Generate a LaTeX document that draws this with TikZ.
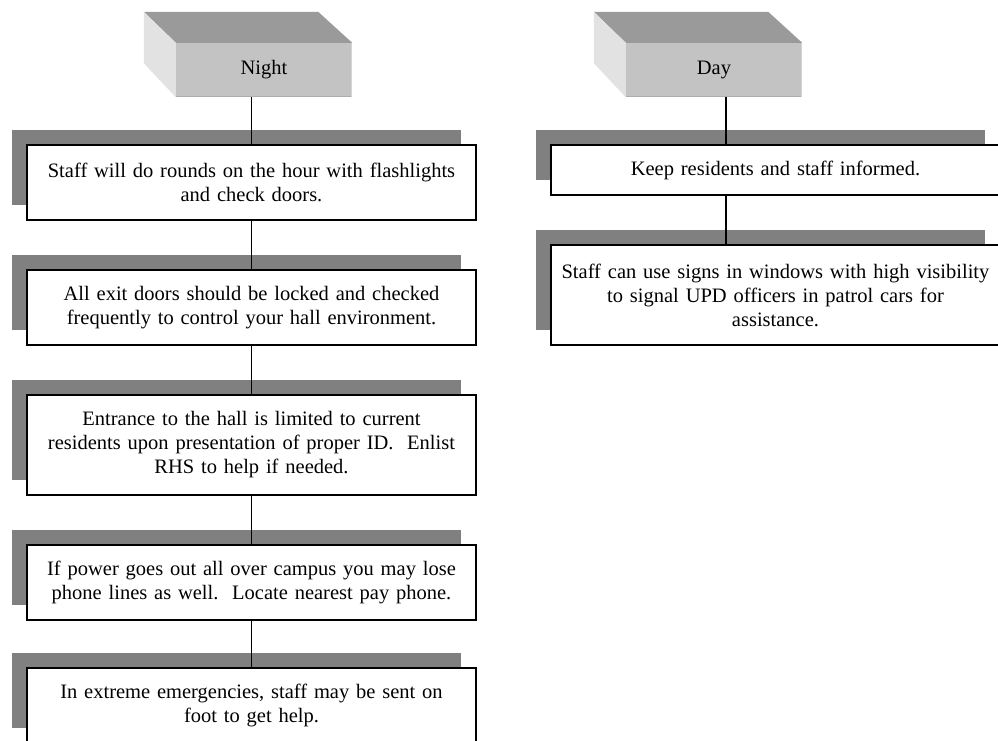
\documentclass[tikz,border=0pt]{standalone}
\usepackage{fontspec}
\setmainfont{Liberation Serif}
\usetikzlibrary{shadows,calc}
\definecolor{shadowgray}{HTML}{808080}
\definecolor{topface}{HTML}{9A9A9A}
\definecolor{frontface}{HTML}{C3C3C3}
\definecolor{sideface}{HTML}{E2E2E2}
\definecolor{frontedge}{HTML}{ADADAD}
\definecolor{rightedge}{HTML}{D4D4D4}
\tikzset{
  txtbox/.style={draw=black, line width=1.8pt, fill=white, minimum width=449pt,
    minimum height=#1, text width=440pt, align=center, inner sep=0pt,
    font=\fontsize{20.5}{24}\selectfont,
    drop shadow={shadow xshift=-15pt, shadow yshift=15pt, fill=shadowgray, opacity=1}},
  txtbox/.default=75pt,
  headbox/.style={fill=frontface, minimum width=176pt, minimum height=54pt,
    inner sep=0pt, font=\fontsize{20.5}{24}\selectfont},
  topf/.style={fill=topface},
  sidef/.style={fill=sideface},
  conn/.style={draw=black, line width=1.8pt}
}
\begin{document}
\begin{tikzpicture}[x=1pt,y=-1pt]
\useasboundingbox (0,0) rectangle (998,740);
\clip (0,0) rectangle (998,740);
\fill[white] (0,0) rectangle (998,740);

% headers
\node[headbox] (night) at (264,70) {Night};
\fill[topf] (night.north west) -- (night.north east) -- ++(-34,-31)
  -- ($(night.north west)+(-32,-31)$) -- cycle;
\fill[sidef] (night.north west) -- ++(-32,-31) -- ($(night.south west)+(-32,-34)$)
  -- (night.south west) -- cycle;
\draw[frontedge, line width=1.5pt] ([yshift=0.75pt]night.south west) -- ([yshift=0.75pt]night.south east);
\draw[rightedge, line width=1.5pt] ([xshift=-0.75pt]night.north east) -- ([xshift=-0.75pt]night.south east);

\node[headbox] (day) at (714,70) {Day};
\fill[topf] (day.north west) -- (day.north east) -- ++(-34,-31)
  -- ($(day.north west)+(-32,-31)$) -- cycle;
\fill[sidef] (day.north west) -- ++(-32,-31) -- ($(day.south west)+(-32,-34)$)
  -- (day.south west) -- cycle;
\draw[frontedge, line width=1.5pt] ([yshift=0.75pt]day.south west) -- ([yshift=0.75pt]day.south east);
\draw[rightedge, line width=1.5pt] ([xshift=-0.75pt]day.north east) -- ([xshift=-0.75pt]day.south east);

% night column
\node[txtbox] (n1) at (251.5,182.5) {Staff will do rounds on the hour with flashlights\\and check doors.};
\node[txtbox] (n2) at (251.5,307.5) {All exit doors should be locked and checked\\frequently to control your hall environment.};
\node[txtbox=100pt] (n3) at (251.5,445) {Entrance to the hall is limited to current\\residents upon presentation of proper ID.\ \ Enlist\\RHS to help if needed.};
\node[txtbox] (n4) at (251.5,582.5) {If power goes out all over campus you may lose\\phone lines as well.\ \ Locate nearest pay phone.};
\node[txtbox] (n5) at (251.5,705.5) {In extreme emergencies, staff may be sent on\\foot to get help.};

% day column
\node[txtbox=50pt] (d1) at (775.5,170) {Keep residents and staff informed.};
\node[txtbox=100pt] (d2) at (775.5,295) {Staff can use signs in windows with high visibility\\to signal UPD officers in patrol cars for\\assistance.};

% connectors
\draw[conn] (night.south -| n1.north) -- (n1.north);
\draw[conn] (n1.south) -- (n2.north);
\draw[conn] (n2.south) -- (n3.north);
\draw[conn] (n3.south) -- (n4.north);
\draw[conn] (n4.south) -- (n5.north);

\coordinate (dc) at ($(day.south)+(12,0)$);
\draw[conn] (dc) -- (dc |- d1.north);
\draw[conn] (dc |- d1.south) -- (dc |- d2.north);
\end{tikzpicture}
\end{document}
